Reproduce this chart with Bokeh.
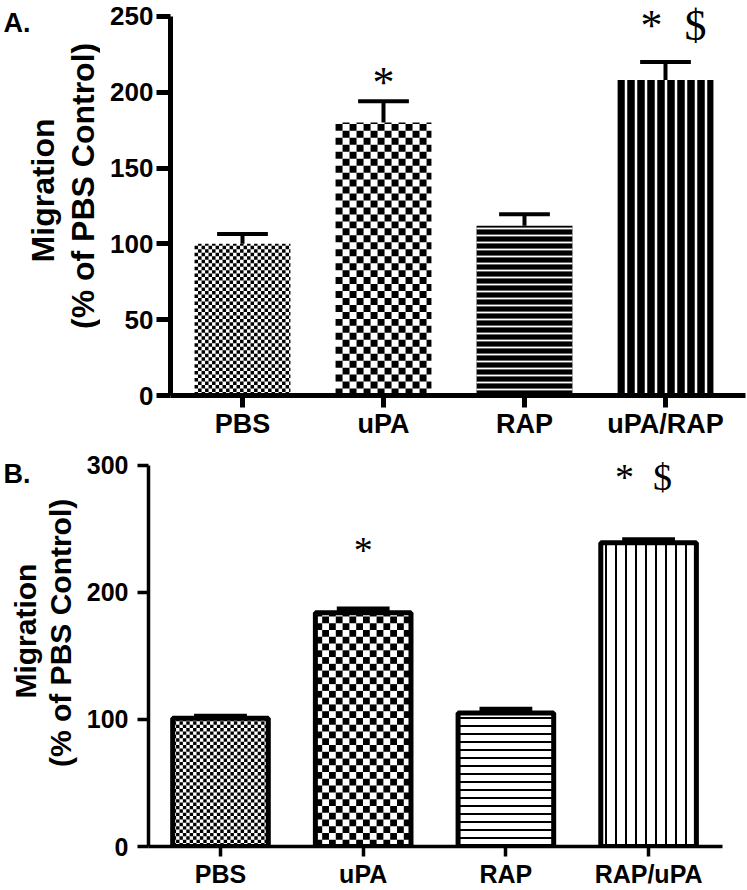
import numpy as np
from bokeh.plotting import figure
from bokeh.layouts import column, row
from bokeh.models import Range1d, FixedTicker, ColumnDataSource
from bokeh.core.properties import value
from bokeh.embed import file_html
from bokeh.resources import INLINE

# ---------------- data ----------------
cats_a = ["PBS", "uPA", "RAP", "uPA/RAP"]
mean_a = [100, 180, 112, 208]
err_a = [6.5, 14, 7.5, 12]
sig_a = ["", "*", "", "*\u2002$"]
sig_y_a = [0, 206.5, 0, 244]
yticks_a = [0, 50, 100, 150, 200, 250]

cats_b = ["PBS", "uPA", "RAP", "RAP/uPA"]
mean_b = [101, 184, 105, 239]
err_b = [1.5, 3, 3, 2.5]
sig_b = ["", "*", "", "*\u2002$"]
sig_y_b = [0, 233, 0, 291]
yticks_b = [0, 100, 200, 300]

ylabel_lines = ["Migration", "(% of PBS Control)"]

SANS = "Liberation Sans"
SERIF = "Liberation Serif"


def checker_cells(xc, width, top, cell_px, px_x, px_y):
    """Black squares of a checkerboard filling one bar (data units)."""
    dx = cell_px / px_x
    dy = cell_px / px_y
    left0 = xc - width / 2
    right0 = xc + width / 2
    ncol = int(np.ceil(width / dx))
    nrow = int(np.ceil(top / dy))
    L, R, B, T = [], [], [], []
    for i in range(ncol):
        for j in range(nrow):
            if (i + j) % 2 == 0:
                l = left0 + i * dx
                b = j * dy
                L.append(l)
                R.append(min(l + dx, right0))
                B.append(b)
                T.append(min(b + dy, top))
    return dict(left=L, right=R, bottom=B, top=T)


def style_axes(p, cats, yticks, ybounds, lw, tick_font, xfont,
               ytick_out, ytick_standoff, xtick_out, xtick_standoff):
    p.grid.visible = False
    p.outline_line_color = None
    p.xaxis.ticker = FixedTicker(ticks=[1, 2, 3, 4])
    p.xaxis.major_label_overrides = {i + 1: c for i, c in enumerate(cats)}
    p.yaxis.ticker = FixedTicker(ticks=yticks)
    p.yaxis.bounds = ybounds
    for ax in (p.xaxis, p.yaxis):
        ax.axis_line_width = lw
        ax.axis_line_color = "black"
        ax.major_tick_line_width = lw
        ax.major_tick_line_color = "black"
        ax.minor_tick_line_color = None
        ax.major_tick_in = 0
        ax.major_label_text_font = SANS
        ax.major_label_text_font_style = "bold"
        ax.major_label_text_color = "black"
    p.yaxis.major_label_text_font_size = tick_font
    p.xaxis.major_label_text_font_size = xfont
    p.yaxis.major_tick_out = ytick_out
    p.yaxis.major_label_standoff = ytick_standoff
    p.xaxis.major_tick_out = xtick_out
    p.xaxis.major_label_standoff = xtick_standoff


def label_strip(width, height, letter, letter_xy, line_xy, font_size):
    """Narrow figure to the left of a panel holding the panel letter and the y title."""
    s = figure(width=width, height=height, output_backend="svg", toolbar_location=None,
               x_range=Range1d(0, width), y_range=Range1d(0, height),
               x_axis_type=None, y_axis_type=None,
               min_border_left=0, min_border_right=0, min_border_top=0, min_border_bottom=0)
    s.grid.visible = False
    s.outline_line_color = None
    s.text(x=[letter_xy[0]], y=[letter_xy[1]], text=[letter], text_font=value(SANS),
           text_font_style="bold", text_font_size="27px", text_align="left",
           text_baseline="alphabetic", text_color="black")
    s.text(x=[xy[0] for xy in line_xy], y=[xy[1] for xy in line_xy], text=ylabel_lines,
           angle=np.pi / 2, text_font=value(SANS), text_font_style="bold",
           text_font_size=font_size, text_align="center", text_baseline="middle",
           text_color="black")
    return s


# ---------------- panel A ----------------
HA = 441
SA = 100
PXA, PYA = 141.0, 1.524
pa = figure(width=747 - SA, height=HA, output_backend="svg", toolbar_location=None,
            x_range=Range1d(0.4894, 4.5674), y_range=Range1d(0, 260.5),
            min_border_left=70, min_border_right=2, min_border_top=0, min_border_bottom=44)
style_axes(pa, cats_a, yticks_a, (0, 250), 5, "26px", "27px", 14, 3, 12, 1)

xa = np.arange(1, len(cats_a) + 1)
BW = 0.68
pa.vbar(x=xa[:2], top=mean_a[:2], bottom=0, width=BW, fill_color="white", line_color=None)
for i, cell in ((0, 3.5), (1, 7.0)):
    pa.quad(source=ColumnDataSource(checker_cells(xa[i], BW, mean_a[i], cell, PXA, PYA)),
            left="left", right="right", bottom="bottom", top="top",
            fill_color="black", line_color=None)
pa.vbar(x=[xa[2]], top=[mean_a[2]], bottom=0, width=BW, fill_color="black", line_color=None,
        hatch_pattern="horizontal_line", hatch_color="white", hatch_scale=7, hatch_weight=1.8)
pa.vbar(x=[xa[3]], top=[mean_a[3]], bottom=0, width=BW, fill_color="black", line_color=None,
        hatch_pattern="vertical_line", hatch_color="white", hatch_scale=10, hatch_weight=2.5)

top_a = np.array(mean_a) + np.array(err_a)
pa.segment(x0=xa, y0=mean_a, x1=xa, y1=top_a, line_width=4, line_color="black")
pa.segment(x0=xa - 0.18, y0=top_a, x1=xa + 0.18, y1=top_a, line_width=4, line_color="black")

src_sa = ColumnDataSource(dict(x=xa, y=sig_y_a, t=sig_a, xo=[0, 0, 0, 8]))
pa.text(x="x", y="y", text="t", x_offset="xo", source=src_sa, text_font=value(SERIF),
        text_font_size="44px", text_align="center", text_baseline="middle", text_color="black")

strip_a = label_strip(SA, HA, "A.", (3, HA - 25), [(42, HA - 212), (82, HA - 207)], "32px")

# ---------------- panel B ----------------
HB = 449
SB = 80
PXB, PYB = 142.7, 1.277
pb = figure(width=747 - SB, height=HB, output_backend="svg", toolbar_location=None,
            x_range=Range1d(0.4955, 4.518), y_range=Range1d(0, 317.2),
            min_border_left=68, min_border_right=25, min_border_top=2, min_border_bottom=42)
style_axes(pb, cats_b, yticks_b, (0, 300), 3.5, "25px", "25px", 11, 9, 10, 3)

xb = np.arange(1, len(cats_b) + 1)
BWB = 0.67
pb.vbar(x=xb, top=mean_b, bottom=0, width=BWB, fill_color="white", line_color=None)
for i, cell in ((0, 3.4), (1, 6.8)):
    pb.quad(source=ColumnDataSource(checker_cells(xb[i], BWB, mean_b[i], cell, PXB, PYB)),
            left="left", right="right", bottom="bottom", top="top",
            fill_color="black", line_color=None)
pb.vbar(x=[xb[2]], top=[mean_b[2]], bottom=0, width=BWB, fill_color="white", line_color=None,
        hatch_pattern="horizontal_line", hatch_color="black", hatch_scale=8, hatch_weight=2)
pb.vbar(x=[xb[3]], top=[mean_b[3]], bottom=0, width=BWB, fill_color="white", line_color=None,
        hatch_pattern="vertical_line", hatch_color="black", hatch_scale=10, hatch_weight=2)
pb.vbar(x=xb, top=mean_b, bottom=0, width=BWB, fill_color=None, line_color="black", line_width=5)

top_b = np.array(mean_b) + np.array(err_b)
pb.segment(x0=xb, y0=mean_b, x1=xb, y1=top_b, line_width=3, line_color="black")
pb.segment(x0=xb - 0.185, y0=top_b, x1=xb + 0.185, y1=top_b, line_width=5, line_color="black")

src_sb = ColumnDataSource(dict(x=xb, y=sig_y_b, t=sig_b, xo=[0, 0, 0, -5]))
pb.text(x="x", y="y", text="t", x_offset="xo", source=src_sb, text_font=value(SERIF),
        text_font_size="38px", text_align="center", text_baseline="middle", text_color="black")

strip_b = label_strip(SB, HB, "B.", (3, HB - 34), [(25, HB - 209), (60, HB - 211)], "30px")

layout = column(row(strip_a, pa, spacing=0), row(strip_b, pb, spacing=0), spacing=0)
open("out.html", "w").write(file_html(layout, INLINE))
